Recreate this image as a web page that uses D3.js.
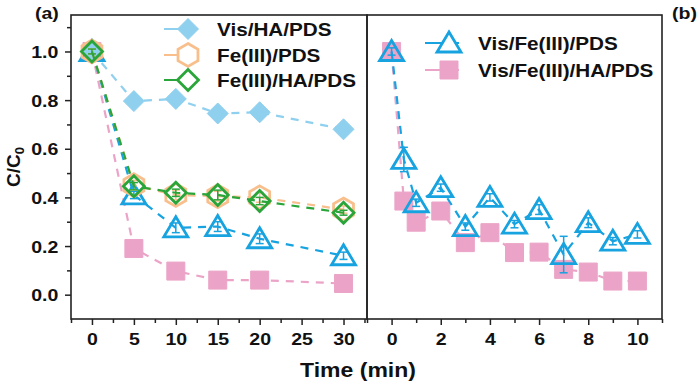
<!DOCTYPE html>
<html><head><meta charset="utf-8">
<script src="https://cdn.jsdelivr.net/npm/d3@7"></script>
<style>
body{margin:0;background:#fff}
svg{display:block}
text{font-family:"Liberation Sans",Arial,sans-serif;font-weight:bold;fill:#111}
</style>
</head><body><svg id="c" width="700" height="385"></svg>
<script>
// ---- data ----
const timesA = [0, 5, 10, 15, 20, 30];
const visHaPds      = [1.0, 0.796, 0.805, 0.745, 0.75, 0.68];
const visHaPdsErr   = [0.01, 0.01, 0.01, 0.01, 0.01, 0.015];
const fePds         = [1.0, 0.45, 0.41, 0.405, 0.40, 0.35];
const fePdsErr      = [0.01, 0.02, 0.02, 0.02, 0.02, 0.015];
const feHaPds       = [1.0, 0.446, 0.419, 0.41, 0.385, 0.337];
const feHaPdsErr    = [0.01, 0.015, 0.015, 0.02, 0.015, 0.01];
const visFePdsA     = [1.0, 0.41, 0.275, 0.28, 0.23, 0.16];
const visFePdsAErr  = [0.01, 0.015, 0.02, 0.02, 0.02, 0.015];
const visFeHaPdsA   = [1.0, 0.19, 0.097, 0.06, 0.06, 0.046];
const visFeHaPdsAErr= [0.01, 0.01, 0.01, 0.01, 0.01, 0.01];

const timesB = [0, 0.5, 1, 2, 3, 4, 5, 6, 7, 8, 9, 10];
const visFePdsB     = [1.0, 0.556, 0.378, 0.44, 0.28, 0.40, 0.29, 0.35, 0.165, 0.296, 0.22, 0.248];
const visFePdsBErr  = [0.015, 0.05, 0.015, 0.015, 0.015, 0.015, 0.015, 0.02, 0.075, 0.02, 0.015, 0.015];
const visFeHaPdsB   = [1.0, 0.385, 0.298, 0.344, 0.214, 0.255, 0.173, 0.175, 0.104, 0.093, 0.056, 0.056];
const visFeHaPdsBErr= [0.01, 0.01, 0.01, 0.02, 0.01, 0.01, 0.01, 0.01, 0.01, 0.01, 0.01, 0.01];

const yTicks = [0.0, 0.2, 0.4, 0.6, 0.8, 1.0];
const xTicksA = [0, 5, 10, 15, 20, 25, 30];
const xTicksB = [0, 2, 4, 6, 8, 10];

const labelsA = ["Vis/HA/PDS", "Fe(III)/PDS", "Fe(III)/HA/PDS"];
const labelsB = ["Vis/Fe(III)/PDS", "Vis/Fe(III)/HA/PDS"];

// ---- layout ----
const svg = d3.select("#c");
const A = {x0: 71, x1: 367}, B = {x0: 367, x1: 662}, Y0 = 15, Y1 = 319;
const xA = d3.scaleLinear().domain([-2.5, 32.8]).range([A.x0, A.x1]);
const xB = d3.scaleLinear().domain([-1, 11]).range([B.x0, B.x1]);
const y = d3.scaleLinear().domain([-0.1, 1.15]).range([Y1, Y0]);
const SX = 1.15;

const C = {
  ltblue: "#8fd0ef", orange: "#f8bf8c", green: "#2aa53a", blue: "#17a2e0", pink: "#eba4c7"
};

// marker shape paths
function shapePath(type) {
  switch (type) {
    case "diamond": return "M0,-10.5L10.5,0L0,10.5L-10.5,0Z";
    case "hex": { const r = 11.5; let p = ""; for (let i = 0; i < 6; i++) { const a = Math.PI / 3 * i - Math.PI / 2; p += (i ? "L" : "M") + (r * Math.cos(a)).toFixed(2) + "," + (r * Math.sin(a)).toFixed(2); } return p + "Z"; }
    case "tri": return "M0,-11L12,9L-12,9Z";
    case "square": return "M-9,-9H9V9H-9Z";
  }
}

function drawSeries(g, x, times, vals, errs, o) {
  const pts = times.map((t, i) => ({t, v: vals[i], e: errs[i]}));
  g.append("path").datum(pts)
    .attr("d", d3.line().x(d => x(d.t)).y(d => y(d.v)))
    .attr("fill", "none").attr("stroke", o.color).attr("stroke-width", 2.2)
    .attr("stroke-dasharray", "8,7");
  const eg = g.append("g").attr("stroke", o.color).attr("stroke-width", 1.5);
  pts.forEach(d => {
    eg.append("line").attr("x1", x(d.t)).attr("x2", x(d.t)).attr("y1", y(d.v - d.e)).attr("y2", y(d.v + d.e));
    eg.append("line").attr("x1", x(d.t) - 4).attr("x2", x(d.t) + 4).attr("y1", y(d.v - d.e)).attr("y2", y(d.v - d.e));
    eg.append("line").attr("x1", x(d.t) - 4).attr("x2", x(d.t) + 4).attr("y1", y(d.v + d.e)).attr("y2", y(d.v + d.e));
  });
  g.append("g").selectAll("path").data(pts).join("path")
    .attr("transform", d => `translate(${x(d.t)},${y(d.v)})`)
    .attr("d", shapePath(o.shape))
    .attr("fill", o.hollow ? "none" : o.color)
    .attr("stroke", o.color).attr("stroke-width", o.hollow ? 2.8 : 1)
    .attr("stroke-linejoin", "miter");
}

function stretchText(sel) { sel.attr("transform", `scale(${SX},1)`); }

// ---- panel (a) ----
const gA = svg.append("g");
drawSeries(gA, xA, timesA, visFeHaPdsA, visFeHaPdsAErr, {color: C.pink, shape: "square"});
drawSeries(gA, xA, timesA, visFePdsA, visFePdsAErr, {color: C.blue, shape: "tri", hollow: true});
drawSeries(gA, xA, timesA, visHaPds, visHaPdsErr, {color: C.ltblue, shape: "diamond"});
drawSeries(gA, xA, timesA, fePds, fePdsErr, {color: C.orange, shape: "hex", hollow: true});
drawSeries(gA, xA, timesA, feHaPds, feHaPdsErr, {color: C.green, shape: "diamond", hollow: true});

// ---- panel (b) ----
const gB = svg.append("g");
drawSeries(gB, xB, timesB, visFeHaPdsB, visFeHaPdsBErr, {color: C.pink, shape: "square"});
drawSeries(gB, xB, timesB, visFePdsB, visFePdsBErr, {color: C.blue, shape: "tri", hollow: true});

// ---- frames ----
svg.append("rect").attr("x", A.x0).attr("y", Y0).attr("width", A.x1 - A.x0).attr("height", Y1 - Y0)
  .attr("fill", "none").attr("stroke", "#222").attr("stroke-width", 1.6);
svg.append("rect").attr("x", B.x0).attr("y", Y0).attr("width", B.x1 - B.x0).attr("height", Y1 - Y0)
  .attr("fill", "none").attr("stroke", "#222").attr("stroke-width", 1.6);

// ---- axes ----
function styleAxis(g) {
  g.select(".domain").remove();
  g.selectAll("line").attr("stroke", "#222").attr("stroke-width", 1.5);
  g.selectAll("text").attr("font-size", 17).attr("fill", "#111")
    .style("font-family", '"Liberation Sans",Arial,sans-serif').style("font-weight", "bold");
}
// y axis (a)
svg.append("g").attr("transform", `translate(${A.x0},0)`)
  .call(d3.axisLeft(y).tickValues(d3.range(0.1, 1.15, 0.2)).tickSize(4).tickFormat(""))
  .call(styleAxis);
svg.append("g").attr("transform", `translate(${A.x0},0)`)
  .call(d3.axisLeft(y).tickValues(yTicks).tickSize(6).tickPadding(5).tickFormat(d3.format(".1f")))
  .call(styleAxis)
  .call(g => g.selectAll("text").attr("dy", "0.36em").call(stretchText));
// x axis (a)
svg.append("g").attr("transform", `translate(0,${Y1})`)
  .call(d3.axisBottom(xA).tickValues(d3.range(-2.5, 33, 5)).tickSize(4).tickFormat(""))
  .call(styleAxis);
svg.append("g").attr("transform", `translate(0,${Y1})`)
  .call(d3.axisBottom(xA).tickValues(xTicksA).tickSize(6).tickPadding(8).tickFormat(d3.format("d")))
  .call(styleAxis)
  .call(g => g.selectAll("text").call(stretchText));
// x axis (b)
svg.append("g").attr("transform", `translate(0,${Y1})`)
  .call(d3.axisBottom(xB).tickValues(d3.range(-1, 12, 2)).tickSize(4).tickFormat(""))
  .call(styleAxis);
svg.append("g").attr("transform", `translate(0,${Y1})`)
  .call(d3.axisBottom(xB).tickValues(xTicksB).tickSize(6).tickPadding(8).tickFormat(d3.format("d")))
  .call(styleAxis)
  .call(g => g.selectAll("text").call(stretchText));

// ---- titles ----
function sText(x, yy, s, size, anchor) {
  const t = svg.append("text").attr("transform", `translate(${x},${yy}) scale(${SX},1)`)
    .attr("font-size", size).attr("text-anchor", anchor || "start").text(s);
  return t;
}
sText(358, 377, "Time (min)", 20, "middle");
const yl = svg.append("text").attr("transform", "translate(20,167) rotate(-90)")
  .attr("font-size", 19).attr("text-anchor", "middle");
yl.append("tspan").text("C/C");
yl.append("tspan").attr("font-size", 13).attr("dy", 4).text("0");
sText(35, 19, "(a)", 17);
sText(672, 19, "(b)", 17);

// ---- legends ----
function legendItem(cx, cy, tx, o, label) {
  svg.append("line").attr("x1", cx - 24).attr("x2", cx + 10).attr("y1", cy).attr("y2", cy)
    .attr("stroke", o.color).attr("stroke-width", 2);
  svg.append("path").attr("transform", `translate(${cx},${cy})`).attr("d", shapePath(o.shape))
    .attr("fill", o.hollow ? "#fff" : o.color).attr("stroke", o.color).attr("stroke-width", o.hollow ? 2.8 : 1);
  sText(tx, cy + 6.5, label, 18);
}
legendItem(188, 29, 217, {color: C.ltblue, shape: "diamond"}, labelsA[0]);
legendItem(188, 55, 217, {color: C.orange, shape: "hex", hollow: true}, labelsA[1]);
legendItem(188, 80, 217, {color: C.green, shape: "diamond", hollow: true}, labelsA[2]);
legendItem(449, 43, 478, {color: C.blue, shape: "tri", hollow: true}, labelsB[0]);
legendItem(449, 70, 478, {color: C.pink, shape: "square"}, labelsB[1]);
</script>
</body></html>
